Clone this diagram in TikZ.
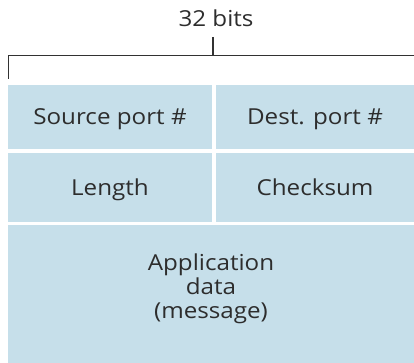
\documentclass[tikz,border=0pt]{standalone}
\usepackage{fontspec}
\setmainfont{Open Sans}
\newfontfamily\fieldfont[FakeStretch=1.1]{Open Sans}
\definecolor{fieldblue}{RGB}{198,223,234}
\definecolor{textgray}{RGB}{45,45,45}
\definecolor{linegray}{RGB}{50,50,50}
\begin{document}
\begin{tikzpicture}[x=1pt,y=-1pt,
  labeltext/.style={font=\fieldfont\fontsize{22}{24}\selectfont, text=textgray},
  field/.style={labeltext, fill=fieldblue, draw=none, inner sep=0pt,
    text height=15.5pt, text depth=0pt},
  bracket/.style={draw=linegray, line width=1.3pt}]
\useasboundingbox (0,0) rectangle (414,363);
% header fields: two 16-bit fields per row
\node[field, minimum width=204pt, minimum height=64pt] (src) at (110,117) {Source port \#};
\node[field, minimum width=198pt, minimum height=64pt] (dst) at (315,117) {Dest. port \#};
\node[field, minimum width=204pt, minimum height=69pt] (len) at (110,187.5) {Length};
\node[field, minimum width=198pt, minimum height=69pt] (chk) at (315,187.5) {Checksum};
% payload (base anchor sits on the last line)
\node[fill=fieldblue, inner sep=0pt, minimum width=406pt, minimum height=138pt] (data) at (211,294) {};
\node[labeltext, align=center, anchor=base, inner sep=0pt] (datatext) at (211,318) {Application\\data\\(message)};
% width bracket
\node[labeltext, anchor=base, inner sep=0pt] (bits) at (216,27) {32 bits};
\coordinate (bl) at (8.7,79);
\coordinate (tl) at (8.7,55.5);
\coordinate (tr) at (414,55.5);
\coordinate (mt) at (213,37);
\coordinate (mb) at (213,55.5);
\draw[bracket] (bl) -- (tl) -- (tr);
\draw[bracket] (mt) -- (mb);
\end{tikzpicture}
\end{document}
